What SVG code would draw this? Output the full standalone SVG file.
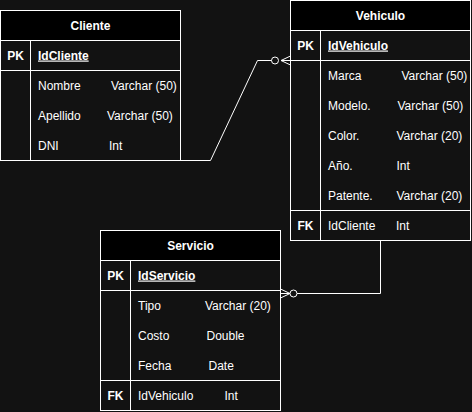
<svg xmlns="http://www.w3.org/2000/svg" width="472" height="412" viewBox="0 0 472 412">
<style>
.bg{fill:#121212}
.tbl{fill:#121212;stroke:#ffffff;stroke-width:1}
.hdr{fill:#000000;stroke:#ffffff;stroke-width:1}
.ln{stroke:#ffffff;stroke-width:1;fill:none}
.cn{stroke:#ffffff;stroke-width:1;fill:none}
.t{font-family:"Liberation Sans",Arial,Helvetica,sans-serif;font-size:12px;fill:#ffffff}
.b{font-weight:bold}
.c{text-anchor:middle}
.u{text-decoration:underline}
</style>
<rect class="bg" x="0" y="0" width="472" height="412"/>
<g id="cliente">
<rect class="tbl" x="0.5" y="10.5" width="180" height="150"/>
<rect class="hdr" x="0.5" y="10.5" width="180" height="30"/>
<line class="ln" x1="0.5" y1="70.5" x2="180.5" y2="70.5"/>
<line class="ln" x1="30.5" y1="40.5" x2="30.5" y2="160.5"/>
<text class="t b c" x="90.5" y="29.5">Cliente</text>
<text class="t b c" x="15.5" y="59.5">PK</text>
<text class="t b u" x="38" y="59.5">IdCliente</text>
<text class="t" x="38" y="89.5">Nombre</text>
<text class="t" x="111" y="89.5">Varchar (50)</text>
<text class="t" x="38" y="119.5">Apellido</text>
<text class="t" x="107" y="119.5">Varchar (50)</text>
<text class="t" x="38" y="149.5">DNI</text>
<text class="t" x="109" y="149.5">Int</text>
</g>
<g id="vehiculo">
<rect class="tbl" x="290.5" y="0.5" width="180" height="240"/>
<rect class="hdr" x="290.5" y="0.5" width="180" height="30"/>
<line class="ln" x1="290.5" y1="60.5" x2="470.5" y2="60.5"/>
<line class="ln" x1="290.5" y1="210.5" x2="470.5" y2="210.5"/>
<line class="ln" x1="320.5" y1="30.5" x2="320.5" y2="240.5"/>
<text class="t b c" x="380.5" y="19.5">Vehiculo</text>
<text class="t b c" x="305.5" y="49.5">PK</text>
<text class="t b u" x="328" y="49.5">IdVehiculo</text>
<text class="t" x="328" y="79.5">Marca</text>
<text class="t" x="401.5" y="79.5">Varchar (50)</text>
<text class="t" x="328" y="109.5">Modelo.</text>
<text class="t" x="397.5" y="109.5">Varchar (50)</text>
<text class="t" x="328" y="139.5">Color.</text>
<text class="t" x="396.5" y="139.5">Varchar (20)</text>
<text class="t" x="328" y="169.5">Año.</text>
<text class="t" x="396.5" y="169.5">Int</text>
<text class="t" x="328" y="199.5">Patente.</text>
<text class="t" x="396.5" y="199.5">Varchar (20)</text>
<text class="t b c" x="305.5" y="229.5">FK</text>
<text class="t" x="328" y="229.5">IdCliente</text>
<text class="t" x="396" y="229.5">Int</text>
</g>
<g id="servicio">
<rect class="tbl" x="100.5" y="230.5" width="180" height="180"/>
<rect class="hdr" x="100.5" y="230.5" width="180" height="30"/>
<line class="ln" x1="100.5" y1="290.5" x2="280.5" y2="290.5"/>
<line class="ln" x1="100.5" y1="380.5" x2="280.5" y2="380.5"/>
<line class="ln" x1="130.5" y1="260.5" x2="130.5" y2="410.5"/>
<text class="t b c" x="190.5" y="249.5">Servicio</text>
<text class="t b c" x="115.5" y="279.5">PK</text>
<text class="t b u" x="138" y="279.5">IdServicio</text>
<text class="t" x="138" y="309.5">Tipo</text>
<text class="t" x="205" y="309.5">Varchar (20)</text>
<text class="t" x="138" y="339.5">Costo</text>
<text class="t" x="206.5" y="339.5">Double</text>
<text class="t" x="138" y="369.5">Fecha</text>
<text class="t" x="208.5" y="369.5">Date</text>
<text class="t b c" x="115.5" y="399.5">FK</text>
<text class="t" x="138" y="399.5">IdVehiculo</text>
<text class="t" x="224.5" y="399.5">Int</text>
</g>
<g id="connectors">
<path class="cn" d="M180.5,160.5 L210.5,160.5 L257.5,60.5 L271.5,60.5"/>
<circle class="cn" cx="275" cy="60.5" r="3.5"/>
<path class="cn" d="M290.5,56 L281,60.5 L290.5,65 M281,60.5 L290.5,60.5"/>
<path class="cn" d="M380.5,240.5 L380.5,293.5 L297,293.5"/>
<circle class="cn" cx="293.5" cy="293.5" r="3.5"/>
<path class="cn" d="M280.5,289 L290,293.5 L280.5,298 M290,293.5 L280.5,293.5"/>
</g>
</svg>
